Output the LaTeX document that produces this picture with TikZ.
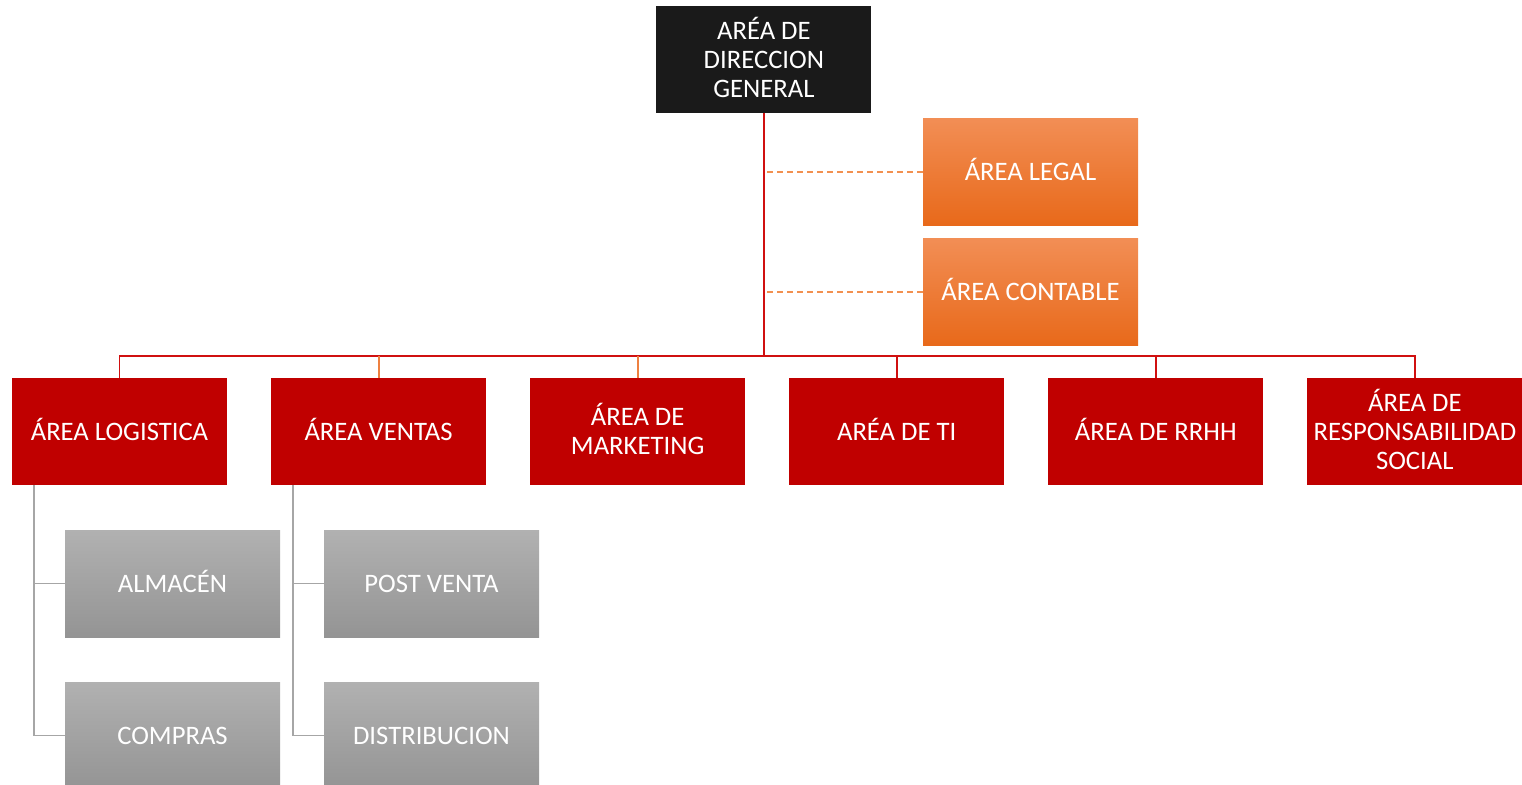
\documentclass[tikz,border=0pt]{standalone}
\usepackage{fontspec}
\setmainfont{Carlito}
\usetikzlibrary{positioning}

\definecolor{topblack}{HTML}{1A1A1A}
\definecolor{areared}{HTML}{C00000}
\definecolor{orangetop}{HTML}{F28E55}
\definecolor{orangebot}{HTML}{E8691A}
\definecolor{graytop}{HTML}{B1B1B1}
\definecolor{graybot}{HTML}{949494}
\definecolor{linkred}{HTML}{D01010}
\definecolor{linkorange}{HTML}{EE8040}
\definecolor{dashorange}{HTML}{F29050}
\definecolor{linkgray}{HTML}{A6A6A6}

% depth on the last line that equals the accent height above the caps
\newcommand\capbalance{\setbox0\hbox{Á}\dimen0=\ht0
  \setbox0\hbox{A}\advance\dimen0 by -\ht0 \rule[-\dimen0]{0pt}{0pt}}

\begin{document}
\begin{tikzpicture}[
  x=0.75pt, y=-0.75pt,
  font=\fontsize{20}{21.75}\selectfont,
  node distance=32.65pt,
  box/.style={minimum width=161.25pt, minimum height=80.25pt, inner sep=1pt,
              align=center, text=white,
              execute at begin node=\vphantom{Á}, execute at end node=\capbalance},
  topbox/.style={box, fill=topblack},
  areabox/.style={box, fill=areared},
  staffbox/.style={box, top color=orangetop, bottom color=orangebot},
  subbox/.style={box, top color=graytop, bottom color=graybot},
  link/.style={color=linkred, line width=1.4pt},
  softlink/.style={color=linkorange, line width=1.4pt},
  dashlink/.style={color=dashorange, line width=1.1pt, dash pattern=on 4.5pt off 3pt},
  sublink/.style={color=linkgray, line width=1.2pt}
]
\useasboundingbox (0,0) rectangle (1522,785);
\clip (0,0) rectangle (1522,785);

% Direccion y staff
\node[topbox] (direccion) at (763.9,59.5) {ARÉA DE\\DIRECCION\\GENERAL};
\node[staffbox] (legal) at (1030.5,171.9) {ÁREA LEGAL};
\node[staffbox] (contable) at (1030.5,291.9) {ÁREA CONTABLE};

% Areas
\node[areabox] (logistica) at (119.5,431.5) {ÁREA LOGISTICA};
\node[areabox, right=of logistica] (ventas) {ÁREA VENTAS};
\node[areabox, right=of ventas] (marketing) {ÁREA DE\\MARKETING};
\node[areabox, right=of marketing] (ti) {ARÉA DE TI};
\node[areabox, right=of ti] (rrhh) {ÁREA DE RRHH};
\node[areabox, right=of rrhh] (rsocial) {ÁREA DE\\RESPONSABILIDAD\\SOCIAL};

% Sub areas
\node[subbox] (almacen) at (172.5,583.5) {ALMACÉN};
\node[subbox] (compras) at (172.5,735.5) {COMPRAS};
\node[subbox] (postventa) at (431.5,583.5) {POST VENTA};
\node[subbox] (distribucion) at (431.5,735.5) {DISTRIBUCION};

% Connectors
\coordinate (bus) at (763.9,356);
\draw[link] (direccion.south) -- (bus);
\draw[link] (logistica.north) |- (bus) -| (rsocial.north);
\draw[softlink] (ventas.north) -- (ventas.north |- bus);
\draw[softlink] (marketing.north) -- (marketing.north |- bus);
\draw[link] (ti.north) -- (ti.north |- bus);
\draw[link] (rrhh.north) -- (rrhh.north |- bus);
\draw[dashlink] (legal.west) -- (legal.west -| direccion.south);
\draw[dashlink] (contable.west) -- (contable.west -| direccion.south);

\coordinate (logspine) at ([xshift=16.5pt]logistica.south west);
\coordinate (venspine) at ([xshift=16.5pt]ventas.south west);
\draw[sublink] (logspine) |- (almacen.west);
\draw[sublink] (logspine) |- (compras.west);
\draw[sublink] (venspine) |- (postventa.west);
\draw[sublink] (venspine) |- (distribucion.west);
\end{tikzpicture}
\end{document}
